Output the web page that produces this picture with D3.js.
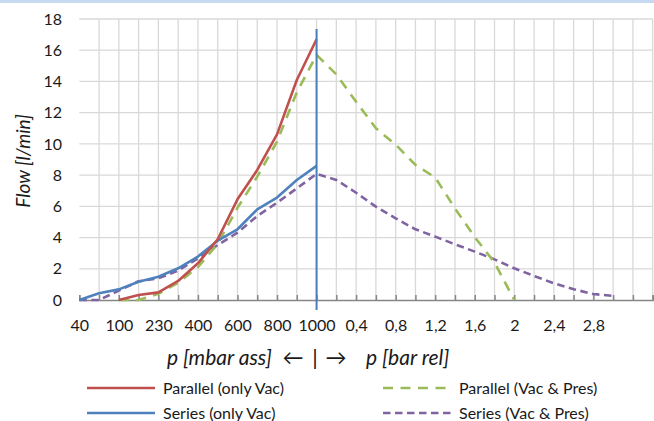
<!DOCTYPE html>
<html><head><meta charset="utf-8">
<script src="https://cdn.jsdelivr.net/npm/d3@7"></script>
<style>
html,body{margin:0;padding:0;background:#fff;}
svg{display:block;font-family:Lato,"Open Sans",sans-serif;}
</style></head>
<body>
<svg id="c" width="654" height="421"></svg>
<script>
// category tick labels (30 categories, labelled every second one)
const xLabels = ["40","","100","","230","","400","","600","","800","","1000","","0,4","","0,8","","1,2","","1,6","","2","","2,4","","2,8","","",""];
const yTicks = [0,2,4,6,8,10,12,14,16,18];
const seriesNames = ["Parallel (only Vac)","Series (only Vac)","Parallel (Vac & Pres)","Series (Vac & Pres)"];
const parallelOnlyVac = [null,null,0,0.32,0.49,1.22,2.35,3.89,6.45,8.33,10.61,14.09,16.7];
const seriesOnlyVac = [0,0.43,0.68,1.17,1.49,2.03,2.78,3.8,4.53,5.81,6.56,7.69,8.59];
const parallelVacPres = [null,null,0,0,0.4,1.1,2.1,3.6,5.9,7.9,10.15,13.3,15.7,14.45,12.7,11.0,9.95,8.65,7.85,5.87,4.03,2.4,0];
const seriesVacPres = [0,0,0.6,1.2,1.39,1.88,2.67,3.52,4.31,5.38,6.23,7.15,8.08,7.69,6.87,5.98,5.23,4.53,4.06,3.57,3.1,2.6,2.03,1.54,1.07,0.69,0.38,0.26];
const dividerCategory = 12;
const xTitleParts = ["p [mbar ass]","\u2190","|","\u2192","p [bar rel]"];

const svg = d3.select("#c");
const W = 654;
const textColor = "#1a1a1a";
svg.append("rect").attr("x",0).attr("y",0).attr("width",W).attr("height",3).attr("fill","#c6d9f1");

const x = d3.scalePoint().domain(d3.range(xLabels.length)).range([79.3, 652.7]).padding(0);
const y = d3.scaleLinear().domain([0,18]).range([300,19]);

const grid = svg.append("g");
grid.selectAll("line.h").data(yTicks.slice(1)).join("line")
  .attr("x1",x(0)).attr("x2",x(xLabels.length-1))
  .attr("y1",d=>y(d)).attr("y2",d=>y(d))
  .attr("stroke","#d9d9d9").attr("stroke-width",1.3);
grid.selectAll("line.v").data(d3.range(1,xLabels.length)).join("line")
  .attr("x1",d=>x(d)).attr("x2",d=>x(d))
  .attr("y1",y(18)).attr("y2",y(0))
  .attr("stroke","#d9d9d9").attr("stroke-width",1.3);

const yAxis = d3.axisLeft(y).tickValues(yTicks).tickSize(0).tickPadding(0);
const gy = svg.append("g").attr("transform","translate(62,0)").call(yAxis);
gy.select(".domain").remove();
gy.selectAll("text").attr("font-size",16).attr("fill",textColor).attr("font-family","Lato");

const xAxis = d3.axisBottom(x).tickSize(-5).tickFormat(i=>xLabels[i]).tickPadding(0);
const gx = svg.append("g").attr("transform",`translate(0,${y(0)})`).call(xAxis);
gx.select(".domain").attr("stroke","#868686").attr("stroke-width",1.5);
gx.selectAll(".tick line").attr("stroke","#868686").attr("stroke-width",1.5);
gx.selectAll("text").attr("font-size",16).attr("fill",textColor).attr("font-family","Lato").attr("dy",null).attr("y",31);

const line = d3.line().defined(d=>d.v!==null).x(d=>x(d.i)).y(d=>y(d.v));
const toPts = arr => arr.map((v,i)=>({i,v}));
const styles = [
  {data:parallelOnlyVac, color:"#c0504d", dash:null},
  {data:seriesOnlyVac, color:"#4f81bd", dash:null},
  {data:parallelVacPres, color:"#9bbb59", dash:"10,7.5"},
  {data:seriesVacPres, color:"#8064a2", dash:"7.5,4.5"}
];
[3,2,1,0].forEach(k=>{
  const s = styles[k];
  svg.append("path").datum(toPts(s.data)).attr("d",line)
    .attr("fill","none").attr("stroke",s.color).attr("stroke-width",2.6)
    .attr("stroke-linejoin","round")
    .attr("stroke-dasharray",s.dash);
});

svg.append("line").attr("x1",x(dividerCategory)).attr("x2",x(dividerCategory))
  .attr("y1",29).attr("y2",310).attr("stroke","#4a7ebb").attr("stroke-width",2);

svg.append("text").attr("transform","translate(30,161) rotate(-90)")
  .attr("text-anchor","middle").attr("font-style","italic").attr("font-size",19)
  .attr("fill",textColor).text("Flow [l/min]");
const titlePos = [[167,"start"],[293,"middle"],[315,"middle"],[336,"middle"],[366,"start"]];
xTitleParts.forEach((t,k)=>{
  svg.append("text").attr("x",titlePos[k][0]).attr("y",365).attr("text-anchor",titlePos[k][1])
    .attr("font-style", k===0||k===4 ? "italic" : "normal")
    .attr("font-size", k===2 ? 22 : 21).attr("fill",textColor).text(t);
});

const legPos = [[87,388],[87,413],[383,388],[383,413]];
seriesNames.forEach((name,k)=>{
  const s = styles[k];
  const [lx,ly] = legPos[k];
  svg.append("line").attr("x1",lx).attr("x2",lx+68).attr("y1",ly).attr("y2",ly)
    .attr("stroke",s.color).attr("stroke-width",2.6).attr("stroke-dasharray",s.dash);
  svg.append("text").attr("x",lx+76).attr("y",ly+5.5).attr("font-size",16)
    .attr("fill",textColor).text(name);
});
</script>
</body></html>
